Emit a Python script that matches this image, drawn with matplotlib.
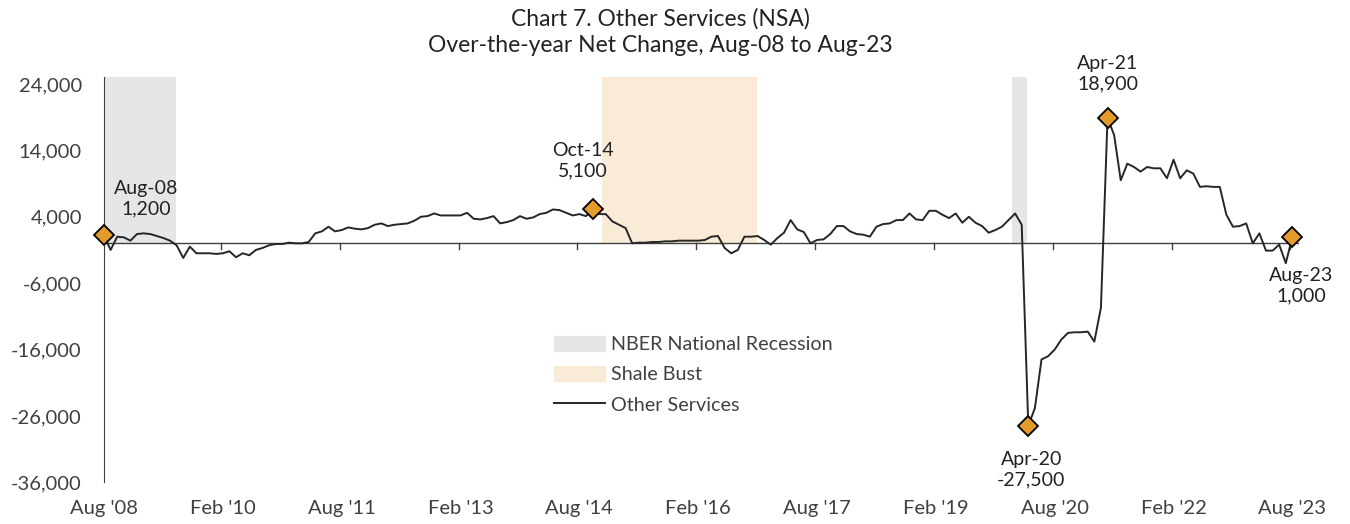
import matplotlib
matplotlib.use("Agg")
import matplotlib.pyplot as plt
from matplotlib.patches import Patch
from matplotlib.lines import Line2D
import numpy as np

plt.rcParams['font.family'] = ['Lato', 'DejaVu Sans']

# over-the-year net change, monthly, Aug 2008 .. Aug 2023
values = [
    1200, -1000, 1000, 900, 400, 1400, 1500, 1400, 1100, 800,
    400, -300, -2200, -500, -1500, -1500, -1500, -1600, -1500, -1200,
    -2100, -1500, -1800, -1000, -700, -300, -100, -100, 100, 0,
    0, 200, 1500, 1800, 2500, 1800, 2000, 2400, 2200, 2100,
    2300, 2800, 3000, 2600, 2800, 2900, 3000, 3400, 4000, 4100,
    4500, 4200, 4200, 4200, 4200, 4600, 3700, 3600, 3800, 4100,
    3000, 3200, 3500, 4100, 3700, 3900, 4400, 4600, 5100, 5000,
    4600, 4200, 4400, 4100, 5100, 4400, 4400, 3300, 2800, 2300,
    0, 100, 100, 200, 200, 300, 300, 400, 400, 400,
    400, 500, 1000, 1100, -700, -1500, -1000, 1000, 1000, 1100,
    500, -200, 800, 1600, 3500, 2100, 1700, 0, 500, 600,
    1400, 2600, 2600, 1800, 1400, 1300, 1000, 2500, 2900, 3000,
    3500, 3500, 4500, 3600, 3500, 4900, 4900, 4300, 3800, 4500,
    3100, 4000, 3100, 2600, 1600, 2000, 2500, 3500, 4500, 2800,
    -27500, -24800, -17500, -17000, -16000, -14500, -13500, -13400, -13400, -13300,
    -14800, -9700, 18900, 16300, 9500, 12000, 11500, 10800, 11500, 11300,
    11300, 9800, 12600, 9800, 11000, 10500, 8500, 8600, 8500, 8500,
    4300, 2500, 2600, 3000, 0, 1500, -1100, -1100, -200, -3000,
    1000,
]

tick_labels = ["Aug '08", "Feb '10", "Aug '11", "Feb '13", "Aug '14", "Feb '16",
               "Aug '17", "Feb '19", "Aug '20", "Feb '22", "Aug '23"]

# shaded periods, in month index from Aug 2008
recessions = [(0, 10.9), (137.6, 139.8)]
shale_bust = [(75.5, 98.9)]

# labelled points: index, label, text offset in pixels
callouts = [(0, "Aug-08", 42, 37), (74, "Oct-14", -10, 49), (140, "Apr-20", 3, -44),
            (152, "Apr-21", 0, 44), (180, "Aug-23", 9, -49)]

x = np.arange(len(values))
txt = "#404040"

fig = plt.figure(figsize=(13.5, 5.24), dpi=100)
ax = fig.add_axes([104 / 1350, 1 - 482.3 / 524, 1195 / 1350, 405.8 / 524])

shade_top = 25130
for a, b in recessions:
    ax.fill_between([a, b], 0, shade_top, color="#e6e6e6", lw=0, zorder=0)
for a, b in shale_bust:
    ax.fill_between([a, b], 0, shade_top, color="#faebd8", lw=0, zorder=0)

ax.axhline(0, color=txt, lw=1.0, zorder=1)
ax.plot(x, values, color="#262626", lw=1.4, zorder=3)

for i, name, dx, dy in callouts:
    ax.plot(x[i], values[i], marker="D", ms=10.5, mfc="#e39b2b", mec="black",
            mew=1.3, zorder=4, clip_on=False)
    ax.annotate(f"{name}\n{values[i]:,}", (x[i], values[i]), xytext=(dx, dy),
                textcoords="offset pixels", ha="center", va="center",
                fontsize=14, color="#222222", linespacing=1.25)

ax.set_xlim(0, 181)
ax.set_ylim(-36000, shade_top)
ax.set_yticks(np.arange(-36000, 24001, 10000))
ax.set_yticklabels([f"{v:,}" for v in range(-36000, 24001, 10000)],
                   fontsize=14.5, color=txt)
ax.tick_params(axis="y", length=0, pad=16)

ax.spines[["top", "right", "bottom"]].set_visible(False)
ax.spines["left"].set_color(txt)

# x ticks drawn on the zero line, labels along the bottom
tick_pos = np.arange(0, 181, 18)
for p in tick_pos[1:]:
    ax.plot([p - 0.3, p - 0.3], [0, -800], color=txt, lw=1.0, zorder=1)
ax.set_xticks([])
for p, lab in zip(tick_pos, tick_labels):
    ax.text(p, -0.065, lab, transform=ax.get_xaxis_transform(), ha="center",
            va="center", fontsize=14.5, color=txt)

handles = [Patch(color="#e6e6e6", label="NBER National Recession"),
           Patch(color="#faebd8", label="Shale Bust"),
           Line2D([], [], color="#262626", lw=1.4, label="Other Services")]
leg = fig.legend(handles=handles, loc="upper left", bbox_to_anchor=(536 / 1350, 1 - 318 / 524),
                 frameon=False, fontsize=14.2, handlelength=2.6, handleheight=0.8,
                 handletextpad=0.3, labelspacing=0.65)
for t in leg.get_texts():
    t.set_color(txt)

fig.text(0.489, 1 - 19 / 524, "Chart 7. Other Services (NSA)", ha="center", va="center",
         fontsize=16.5, color="#222222")
fig.text(0.489, 1 - 46 / 524, "Over-the-year Net Change, Aug-08 to Aug-23", ha="center",
         va="center", fontsize=16.5, color="#222222")

fig.savefig("out.png", dpi=100)
